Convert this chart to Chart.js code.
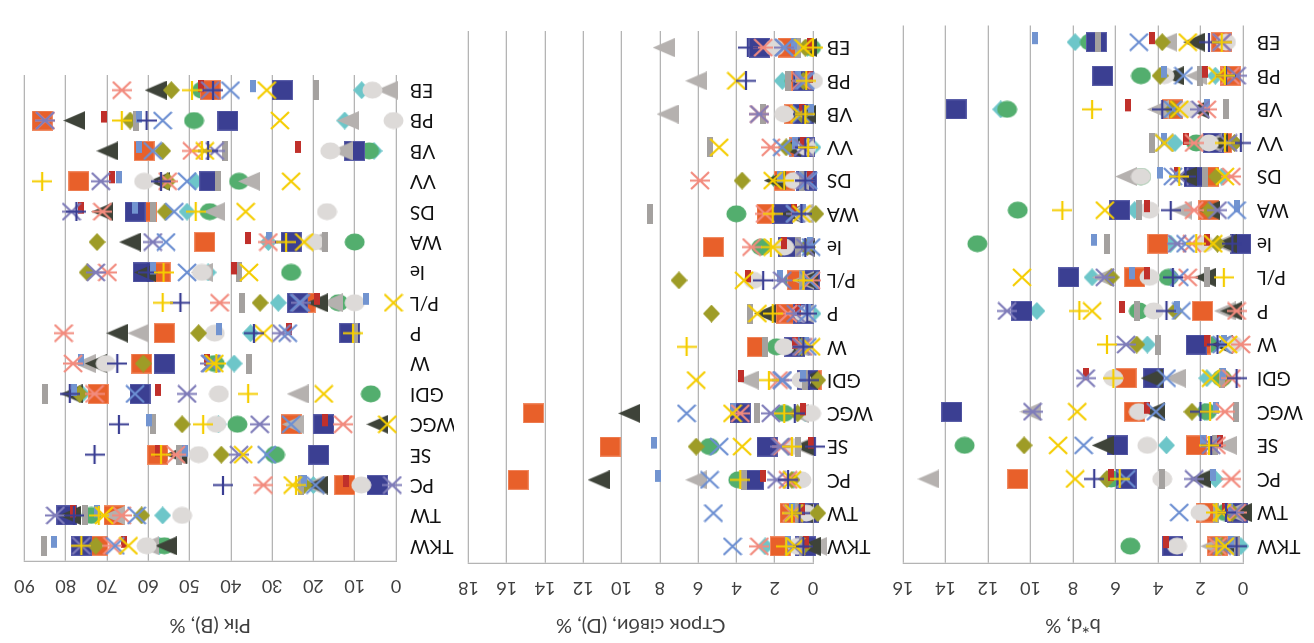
<!DOCTYPE html>
<html>
<head>
<meta charset="utf-8">
<script src="https://cdn.jsdelivr.net/npm/chart.js@4.4.1/dist/chart.umd.min.js"></script>
<style>
  html, body { margin: 0; padding: 0; background: #ffffff; }
  #stage { position: relative; width: 1314px; height: 643px; overflow: hidden;
           transform: rotate(180deg); transform-origin: 50% 50%; background: #ffffff; }
  #stage canvas { position: absolute; top: 0; }
</style>
</head>
<body>
<div id="stage">
  <canvas id="chartBD" width="440" height="643" style="left:0px"></canvas>
  <canvas id="chartSD" width="440" height="643" style="left:430px"></canvas>
  <canvas id="chartYR" width="454" height="643" style="left:860px"></canvas>
</div>
<script>
// Traits (rows, top to bottom)
const categories = ['TKW', 'TW', 'PC', 'SE', 'WGC', 'GDI', 'W', 'P', 'P/L', 'Ie', 'WA', 'DS', 'VV', 'VB', 'PB', 'EB'];

// Axis titles and ranges
const axisTitles = ['b*d, %', 'Строк сівби, (D), %', 'Рік (В), %'];
const axisMax = [16, 18, 90];
const axisStep = [2, 2, 10];

// ---- b*d, % ----
const bdOrangeSquare = [1.2, 1.7, 10.6, 2.2, 5.1, 5.5, 2.0, 1.9, 5.1, 4.0, 1.6, 1.6, 1.0, 3.3, 0.6, 1.0];
const bdNavySquare   = [3.3, 0.25, 5.5, 5.9, 13.7, 4.2, 2.2, 10.4, 8.2, 0.1, 5.8, 2.3, 1.4, 13.5, 6.6, 6.9];
const bdGreenCircle  = [5.3, 0.85, 6.2, 13.1, 1.7, 1.0, 1.6, 4.9, 3.5, 12.5, 10.6, 4.8, 2.2, 11.1, 4.8, 7.2];
const bdGreyCircle   = [3.1, 2.0, 3.8, 4.5, 4.9, 6.1, 0.45, 4.2, 4.4, 1.8, 4.4, 4.8, 1.6, 2.6, 3.7, 0.8];
const bdOliveDiamond = [1.0, 0.5, 6.4, 10.3, 2.4, 0.85, 5.0, 3.2, 6.2, 1.2, 1.6, 1.25, 0.4, 3.3, 3.9, 3.8];
const bdTealDiamond  = [0.1, 0.5, 1.3, 3.6, 1.8, 1.7, 4.5, 9.7, 7.1, 3.4, 5.1, 1.0, 3.2, 11.4, 1.3, 7.9];
const bdDarkTriangle = [0.7, 0.1, 2.0, 6.6, 4.2, 4.3, 1.0, 0.55, 1.8, 0.8, 1.6, 2.7, 1.2, 2.1, 3.3, 2.3];
const bdGreyTriangle = [1.5, 0.5, 14.8, 0.8, 10.0, 3.2, 1.0, 0.85, 6.6, 1.0, 2.9, 5.5, 1.5, 4.0, 2.2, 3.6];
const bdSalmonStar   = [1.2, 0.3, 0.55, 1.25, 0.85, 0.55, 0.1, 0.3, 2.6, 2.4, 2.3, 0.55, 2.3, 1.7, 0.6, 1.0];
const bdPurpleStar   = [1.0, 0.4, 2.3, 1.5, 9.9, 7.4, 5.5, 11.1, 6.5, 3.1, 1.2, 3.0, 0.7, 2.0, 0.3, 1.0];
const bdBlueCross    = [0.8, 3.0, 5.5, 7.5, 4.1, 3.6, 1.0, 2.9, 3.0, 2.7, 0.3, 3.3, 3.7, 3.3, 2.8, 4.9];
const bdYellowCross  = [0.85, 1.0, 7.9, 8.7, 7.8, 1.5, 0.7, 7.1, 10.4, 1.4, 6.5, 0.85, 3.7, 3.0, 1.2, 2.6];
const bdNavyPlus     = [0.3, 0.8, 7.0, 1.5, 2.0, 0.3, 1.2, 3.6, 3.3, 0.5, 3.4, 2.7, 0.1, 3.8, 0.8, 1.6];
const bdYellowPlus   = [1.25, 1.25, 5.8, 1.6, 1.55, 6.1, 6.4, 7.7, 0.9, 2.2, 8.5, 3.0, 0.85, 7.1, 0.85, 1.0];
const bdBlueDash     = [0.55, 0.6, 1.4, 1.9, 1.25, 0.95, 0.9, 3.1, 5.2, 7.0, 0.3, 3.9, 3.7, 1.7, 3.7, 9.8];
const bdRedDash      = [3.6, 0.85, 6.2, 1.1, 4.5, 7.4, 1.7, 5.7, 4.5, 1.7, 4.5, 3.1, 2.7, 5.4, 1.8, 4.3];
const bdGreyDash     = [0.3, 1.25, 3.8, 1.3, 0.35, 1.0, 4.0, 5.0, 1.7, 6.4, 4.9, 1.8, 4.3, 0.8, 2.0, 6.8];

// ---- Строк сівби (D), % ----
const sdOrangeSquare = [1.7, 1.2, 15.4, 10.6, 14.6, 0.1, 2.9, 1.4, 0.8, 5.2, 2.4, 1.5, 0.7, 0.95, 0.6, 1.3];
const sdNavySquare   = [0.4, 0.25, 3.1, 2.4, 3.8, 0.3, 0.95, 0.5, 0.17, 1.3, 1.6, 0.35, 0.45, 0.5, 0.5, 2.8];
const sdGreenCircle  = [1.5, 0.9, 3.9, 5.4, 1.5, 0.0, 1.9, 1.1, 1.0, 2.7, 4.0, 1.7, 0.6, 0.6, 0.95, 0.1];
const sdGreyCircle   = [0.8, 0.35, 0.6, 1.1, 0.1, 0.6, 1.5, 0.5, 3.1, 1.5, 0.45, 1.0, 0.35, 1.5, 0.0, 2.0];
const sdOliveDiamond = [0.5, -0.25, 1.1, 6.1, 0.8, -0.25, 0.6, 5.3, 7.0, 0.3, -0.15, 3.7, 1.4, 0.6, 0.5, 0.4];
const sdTealDiamond  = [2.5, 1.3, 1.0, 1.3, 0.4, 0.3, 0.5, 0.0, 0.5, 0.4, 0.6, 0.8, 0.0, 0.4, 1.6, 0.3];
const sdDarkTriangle = [0.17, 0.6, 11.2, 0.45, 9.6, 0.3, 1.2, 2.5, 0.3, 0.45, 1.1, 2.0, 1.2, 0.4, 0.6, 0.35];
const sdGreyTriangle = [-0.17, 0.5, 6.1, 0.6, 0.8, 3.4, 0.8, 0.5, 0.5, 0.5, 0.6, 0.8, 0.5, 7.6, 6.1, 7.8];
const sdSalmonStar   = [2.8, 1.1, 1.3, 1.6, 3.8, 1.8, 0.5, 1.3, 0.1, 3.2, 2.5, 5.9, 2.2, 2.8, 0.6, 2.6];
const sdPurpleStar   = [1.0, 1.0, 1.9, 1.7, 2.2, 1.6, 0.6, 0.9, 1.6, 0.4, 0.9, 0.4, 0.5, 2.8, 0.5, 1.5];
const sdBlueCross    = [4.2, 5.2, 5.4, 4.9, 6.6, 1.6, 0.3, 0.3, 0.2, 0.1, 0.95, 0.25, 1.6, 0.6, 0.4, 1.5];
const sdYellowCross  = [0.9, 1.0, 1.1, 3.7, 4.2, 6.1, 0.1, 2.9, 3.6, 2.1, 0.6, 2.1, 4.9, 0.7, 4.0, 0.5];
const sdNavyPlus     = [0.5, 0.7, 1.3, -0.1, 0.95, 0.2, 0.5, 0.3, 2.6, 0.4, 0.6, 0.4, 0.4, 0.5, 3.5, 3.4];
const sdYellowPlus   = [1.4, 1.1, 3.8, 1.1, 1.5, 2.3, 6.6, 2.1, 0.5, 2.2, 2.1, 1.5, 0.25, 0.4, 0.35, 0.0];
const sdBlueDash     = [1.3, 1.1, 8.1, 8.3, 4.2, 0.5, 0.35, 0.25, 1.7, 0.17, 0.5, 1.7, 0.95, 0.1, 0.8, 1.0];
const sdRedDash      = [0.35, 0.6, 2.6, 0.1, 0.5, 3.75, 0.95, 0.8, 3.4, 1.5, 1.0, 0.17, 0.5, 0.6, 0.17, 0.17];
const sdGreyDash     = [0.6, 0.8, 3.6, 0.8, 2.9, 0.4, 2.5, 3.3, 0.6, 0.8, 8.5, 0.6, 5.4, 2.6, 1.3, 0.8];

// ---- Рік (В), % ----
const yrOrangeSquare = [72.3, 68.3, 12.4, 57.7, 25.4, 72.1, 61.6, 56.1, 22.0, 57.1, 46.3, 60.4, 76.8, 61.0, 85.7, 45.0];
const yrNavySquare   = [76.2, 79.7, 4.5, 18.7, 17.5, 62.0, 56.1, 11.2, 23.8, 61.2, 25.4, 63.2, 45.1, 10.0, 40.7, 27.5];
const yrGreenCircle  = [56.1, 73.8, 11.6, 29.3, 38.4, 6.1, 43.9, 11.0, 13.9, 25.4, 10.0, 45.1, 38.0, 6.5, 48.9, 47.0];
const yrGreyCircle   = [60.4, 51.8, 8.4, 47.8, 43.5, 42.9, 70.3, 43.9, 10.0, 47.0, 19.9, 16.7, 61.0, 15.9, 0.6, 5.7];
const yrOliveDiamond = [72.7, 61.6, 22.2, 42.3, 51.8, 76.6, 61.2, 47.8, 32.9, 74.8, 72.4, 55.9, 55.3, 56.5, 64.4, 54.4];
const yrTealDiamond  = [57.3, 56.5, 20.0, 30.0, 43.0, 76.0, 39.2, 35.2, 28.5, 45.5, 30.9, 50.6, 48.6, 5.3, 12.4, 8.3];
const yrDarkTriangle = [55.7, 79.0, 19.1, 53.3, 4.5, 78.6, 72.7, 67.5, 19.1, 60.8, 64.4, 71.1, 57.3, 69.9, 77.9, 58.2];
const yrGreyTriangle = [60.0, 68.3, 20.0, 53.0, 25.0, 23.8, 75.4, 62.4, 15.5, 47.0, 20.0, 44.0, 35.6, 13.2, 11.6, 2.1];
const yrSalmonStar   = [68.7, 66.4, 32.1, 53.3, 12.8, 73.0, 78.2, 80.5, 42.7, 69.9, 30.9, 71.1, 55.3, 49.4, 84.9, 66.4];
const yrPurpleStar   = [76.2, 82.5, 0.9, 38.0, 33.0, 50.6, 45.0, 27.7, 23.0, 72.7, 58.9, 78.6, 71.5, 43.9, 85.0, 45.0];
const yrBlueCross    = [68.0, 62.8, 19.5, 31.3, 25.4, 63.2, 44.7, 26.2, 23.4, 50.6, 55.7, 53.7, 50.6, 58.9, 56.5, 40.1];
const yrYellowCross  = [64.8, 70.7, 25.0, 37.0, 2.1, 17.5, 44.0, 32.1, 0.6, 35.6, 22.2, 36.4, 25.4, 46.3, 28.1, 31.3];
const yrNavyPlus     = [76.2, 78.0, 41.9, 73.0, 67.1, 79.0, 67.5, 34.4, 52.2, 60.0, 27.0, 77.4, 56.9, 45.5, 60.4, 44.3];
const yrYellowPlus   = [76.2, 72.0, 24.2, 56.9, 46.7, 35.8, 43.5, 10.4, 56.5, 56.3, 26.6, 48.5, 85.7, 47.0, 66.4, 49.4];
const yrBlueDash     = [82.9, 72.4, 22.2, 51.2, 59.8, 77.9, 76.4, 42.9, 7.2, 58.9, 30.7, 63.2, 67.0, 62.2, 62.2, 34.6];
const yrRedDash      = [66.0, 78.2, 12.2, 57.7, 17.3, 57.7, 45.9, 25.9, 19.1, 39.3, 35.8, 76.4, 68.7, 23.8, 70.8, 47.2];
const yrGreyDash     = [85.3, 75.3, 23.0, 52.6, 58.9, 85.0, 35.6, 10.0, 37.4, 38.0, 17.3, 58.9, 43.1, 41.4, 63.0, 19.3];

// ---- marker images ----
function markerCanvas(w, h, paint) {
  const c = document.createElement('canvas');
  c.width = w; c.height = h;
  const g = c.getContext('2d');
  paint(g, w, h);
  return c;
}
function squareMarker(fill, edge) {
  return markerCanvas(21, 20, (g) => {
    g.fillStyle = fill; g.fillRect(0, 0, 21, 20);
    g.strokeStyle = edge; g.lineWidth = 1; g.strokeRect(0.5, 0.5, 20, 19);
  });
}
function circleMarker(fill) {
  return markerCanvas(21, 18, (g) => {
    g.fillStyle = fill; g.beginPath(); g.ellipse(10.5, 9, 10, 8.6, 0, 0, Math.PI * 2); g.fill();
  });
}
function diamondMarker(fill) {
  return markerCanvas(17, 18, (g) => {
    g.fillStyle = fill; g.beginPath();
    g.moveTo(8.5, 0); g.lineTo(17, 9); g.lineTo(8.5, 18); g.lineTo(0, 9); g.closePath(); g.fill();
  });
}
function triangleMarker(fill) {
  return markerCanvas(22, 19, (g) => {
    g.fillStyle = fill; g.beginPath();
    g.moveTo(0, 0); g.lineTo(22, 9.5); g.lineTo(0, 19); g.closePath(); g.fill();
  });
}
function strokeMarker(color, withBar, diagonal, upright) {
  return markerCanvas(20, 19, (g) => {
    g.strokeStyle = color; g.lineWidth = 2.2; g.lineCap = 'butt'; g.beginPath();
    if (diagonal) { g.moveTo(1, 1); g.lineTo(19, 18); g.moveTo(19, 1); g.lineTo(1, 18); }
    if (withBar) { g.moveTo(0, 9.5); g.lineTo(20, 9.5); }
    if (upright) { g.moveTo(10, 0); g.lineTo(10, 19); }
    g.stroke();
  });
}
function dashMarker(fill, w, h, shift) {
  const H = h + Math.abs(shift) * 2;
  return markerCanvas(w, H, (g) => {
    g.fillStyle = fill;
    g.fillRect(0, (H - h) / 2 + shift, w, h);
  });
}

// series styles, first listed is painted on top
const seriesStyles = [
  { key: 'YellowPlus',   marker: strokeMarker('#F5CD00', true, false, true) },
  { key: 'NavyPlus',     marker: strokeMarker('#3A3E93', true, false, true) },
  { key: 'YellowCross',  marker: strokeMarker('#F5CD00', false, true, false) },
  { key: 'BlueCross',    marker: strokeMarker('#6C8FD2', false, true, false) },
  { key: 'PurpleStar',   marker: strokeMarker('#7F7CB9', true, true, false) },
  { key: 'SalmonStar',   marker: strokeMarker('#F28B7E', true, true, false) },
  { key: 'RedDash',      marker: dashMarker('#C0302B', 6, 12, 4) },
  { key: 'BlueDash',     marker: dashMarker('#7294D0', 6, 12, 4) },
  { key: 'GreyDash',     marker: dashMarker('#A4A19F', 6, 20, 0) },
  { key: 'OliveDiamond', marker: diamondMarker('#9E9C27') },
  { key: 'GreyCircle',   marker: circleMarker('#DDDAD8') },
  { key: 'DarkTriangle', marker: triangleMarker('#3E4339') },
  { key: 'GreyTriangle', marker: triangleMarker('#B5B1AF') },
  { key: 'NavySquare',   marker: squareMarker('#3B3F92', '#5A5EA8') },
  { key: 'OrangeSquare', marker: squareMarker('#E8602A', '#F08A62') },
  { key: 'GreenCircle',  marker: circleMarker('#53AE6E') },
  { key: 'TealDiamond',  marker: diamondMarker('#6DC6C9') }
];

const panelValues = [
  { OrangeSquare: bdOrangeSquare, NavySquare: bdNavySquare, GreenCircle: bdGreenCircle, GreyCircle: bdGreyCircle,
    OliveDiamond: bdOliveDiamond, TealDiamond: bdTealDiamond, DarkTriangle: bdDarkTriangle, GreyTriangle: bdGreyTriangle,
    SalmonStar: bdSalmonStar, PurpleStar: bdPurpleStar, BlueCross: bdBlueCross, YellowCross: bdYellowCross,
    NavyPlus: bdNavyPlus, YellowPlus: bdYellowPlus, BlueDash: bdBlueDash, RedDash: bdRedDash, GreyDash: bdGreyDash },
  { OrangeSquare: sdOrangeSquare, NavySquare: sdNavySquare, GreenCircle: sdGreenCircle, GreyCircle: sdGreyCircle,
    OliveDiamond: sdOliveDiamond, TealDiamond: sdTealDiamond, DarkTriangle: sdDarkTriangle, GreyTriangle: sdGreyTriangle,
    SalmonStar: sdSalmonStar, PurpleStar: sdPurpleStar, BlueCross: sdBlueCross, YellowCross: sdYellowCross,
    NavyPlus: sdNavyPlus, YellowPlus: sdYellowPlus, BlueDash: sdBlueDash, RedDash: sdRedDash, GreyDash: sdGreyDash },
  { OrangeSquare: yrOrangeSquare, NavySquare: yrNavySquare, GreenCircle: yrGreenCircle, GreyCircle: yrGreyCircle,
    OliveDiamond: yrOliveDiamond, TealDiamond: yrTealDiamond, DarkTriangle: yrDarkTriangle, GreyTriangle: yrGreyTriangle,
    SalmonStar: yrSalmonStar, PurpleStar: yrPurpleStar, BlueCross: yrBlueCross, YellowCross: yrYellowCross,
    NavyPlus: yrNavyPlus, YellowPlus: yrYellowPlus, BlueDash: yrBlueDash, RedDash: yrRedDash, GreyDash: yrGreyDash }
];

// canvas-relative plot frames
const frames = [
  { id: 'chartBD', yWidth: 71, xHeight: 80, padRight: 29, padBottom: 11 },
  { id: 'chartSD', yWidth: 71, xHeight: 80, padRight: 23, padBottom: 31 },
  { id: 'chartYR', yWidth: 58, xHeight: 82, padRight: 15, padBottom: 75 }
];

const gridGrey = '#B4B4B4';
const textFont = 'Lato, "Open Sans", "Noto Sans", sans-serif';

frames.forEach((f, i) => {
  const values = panelValues[i];
  const datasets = seriesStyles.map((s) => ({
    label: s.key,
    data: values[s.key].map((v, k) => ({ x: v, y: categories[k] })),
    pointStyle: s.marker,
    pointRadius: 10,
    pointHoverRadius: 10,
    showLine: false,
    clip: false
  }));
  new Chart(document.getElementById(f.id), {
    type: 'scatter',
    data: { labels: categories, datasets },
    options: {
      responsive: false,
      animation: false,
      devicePixelRatio: 1,
      layout: { padding: { left: 0, top: 0, right: f.padRight, bottom: f.padBottom } },
      plugins: { legend: { display: false }, tooltip: { enabled: false } },
      scales: {
        x: {
          type: 'linear', position: 'top', min: 0, max: axisMax[i],
          ticks: { stepSize: axisStep[i], color: '#404040', padding: 14,
                   font: { family: textFont, size: 18 } },
          grid: { color: gridGrey, lineWidth: 1.3, drawTicks: false },
          border: { display: true, color: gridGrey, width: 1.3 },
          title: { display: true, text: axisTitles[i], color: '#404040',
                   font: { family: textFont, size: 20 }, padding: { top: 6, bottom: 0 } },
          afterFit: (scale) => { scale.height = f.xHeight; }
        },
        y: {
          type: 'category', labels: categories, offset: true,
          grid: { display: false, drawTicks: false },
          border: { display: false },
          ticks: { color: '#111111', padding: 14, font: { family: textFont, size: 19 } },
          afterFit: (scale) => { scale.width = f.yWidth; }
        }
      }
    }
  });
});
</script>
</body>
</html>
